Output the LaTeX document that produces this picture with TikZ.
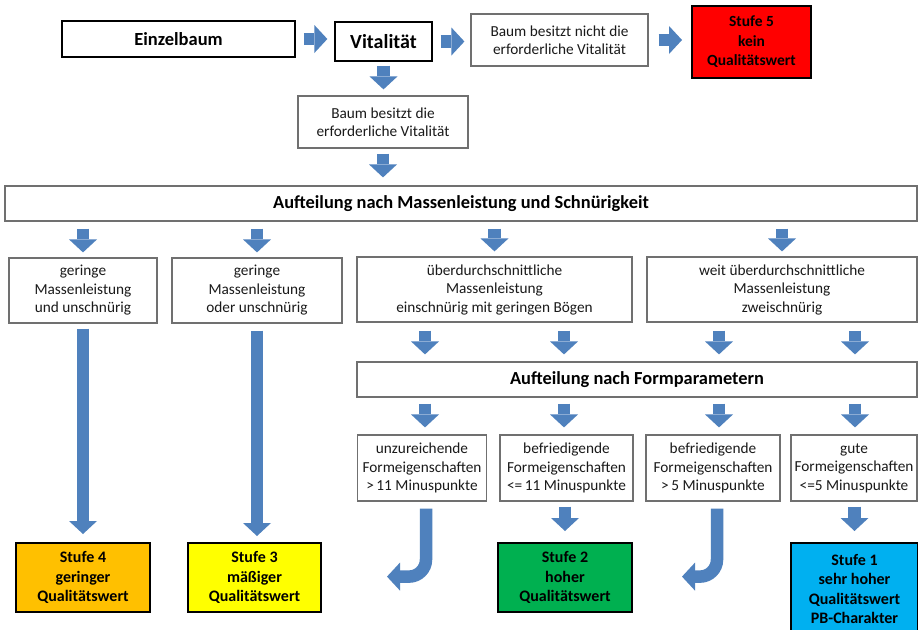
\documentclass[tikz,border=0pt]{standalone}
\usepackage{fontspec}
\setmainfont{Carlito}
\usetikzlibrary{arrows.meta,calc}
\definecolor{arrowblue}{HTML}{4F81BD}
\definecolor{boxgray}{HTML}{707070}
\definecolor{txtgray}{HTML}{1A1A1A}
\definecolor{s5red}{HTML}{FF0000}
\definecolor{s4orange}{HTML}{FFC000}
\definecolor{s3yellow}{HTML}{FFFF00}
\definecolor{s2green}{HTML}{00B050}
\definecolor{s1blue}{HTML}{00B0F0}
\begin{document}
\begin{tikzpicture}[x=1pt,y=-1pt,
  box/.style={draw=boxgray, line width=1.2pt, fill=white, align=center, inner sep=0pt,
    text=txtgray, font=\fontsize{15.3}{18.5}\selectfont},
  headbox/.style={box, text=black, font=\fontsize{18.4}{22}\selectfont\bfseries},
  stufe/.style={draw=black, line width=2pt, align=center, inner sep=0pt,
    text=black, font=\fontsize{16}{19.5}\selectfont\bfseries},
  barrow/.style={draw=arrowblue, line width=12.5pt,
    -{Triangle[length=13pt,width=28pt,line width=0pt]}},
]
\useasboundingbox (0,0) rectangle (918,629);
\fill[white] (0,0) rectangle (918,629);

% lanes
\coordinate (lane1) at (425,0);
\coordinate (lane2) at (564,0);
\coordinate (lane3) at (719,0);
\coordinate (lane4) at (855,0);

% top row
\node[box, draw=black, line width=1.8pt, text=black, minimum width=233pt, minimum height=36pt,
  font=\fontsize{18.5}{22}\selectfont\bfseries] (einzel) at (178.5,39) {Einzelbaum};
\node[box, draw=black, line width=1.3pt, text=black, minimum width=97pt, minimum height=39pt,
  font=\fontsize{20}{24}\selectfont\bfseries] (vital) at (383.5,41.5) {Vitalität};
\node[box, minimum width=177pt, minimum height=52pt] (nicht) at (559.5,40)
  {Baum besitzt nicht die\\erforderliche Vitalität};
\node[stufe, fill=s5red, minimum width=119pt, minimum height=72pt,
  font=\fontsize{15.5}{19.5}\selectfont\bfseries] (s5) at (751.5,42)
  {Stufe 5\\kein\\Qualitätswert};
\node[box, minimum width=170pt, minimum height=52pt] (hat) at (383,122)
  {Baum besitzt die\\erforderliche Vitalität};

% first split
\node[headbox, minimum width=912pt, minimum height=35pt] (auf1) at (461,203.5)
  {Aufteilung nach Massenleistung und Schnürigkeit};
\node[box, minimum width=148pt, minimum height=65pt] (A) at (83,290.5)
  {geringe\\Massenleistung\\und unschnürig};
\node[box, minimum width=170pt, minimum height=65pt] (B) at (257,290.5)
  {geringe\\Massenleistung\\oder unschnürig};
\node[box, minimum width=275pt, minimum height=65pt] (C) at (494.5,289.5)
  {überdurchschnittliche\\Massenleistung\\einschnürig mit geringen Bögen};
\node[box, minimum width=270pt, minimum height=65pt] (D) at (782,289.5)
  {weit überdurchschnittliche\\Massenleistung\\zweischnürig};

% second split
\node[headbox, minimum width=560pt, minimum height=35pt] (auf2) at (637,379.5)
  {Aufteilung nach Formparametern};
\node[box, minimum width=129pt, minimum height=66pt] (E) at (422,468)
  {unzureichende\\Formeigenschaften\\>\,11 Minuspunkte};
\node[box, minimum width=133pt, minimum height=66pt] (F) at (566.5,468)
  {befriedigende\\Formeigenschaften\\<=\,11 Minuspunkte};
\node[box, minimum width=134pt, minimum height=66pt] (G) at (713,468)
  {befriedigende\\Formeigenschaften\\>\,5 Minuspunkte};
\node[box, minimum width=126pt, minimum height=66pt] (H) at (854,468)
  {gute\\Formeigenschaften\\<=5 Minuspunkte};

% results
\node[stufe, fill=s4orange, minimum width=134pt, minimum height=69pt] (s4) at (83,577.5)
  {Stufe 4\\geringer\\Qualitätswert};
\node[stufe, fill=s3yellow, minimum width=133pt, minimum height=69pt] (s3) at (254.5,577.5)
  {Stufe 3\\mäßiger\\Qualitätswert};
\node[stufe, fill=s2green, minimum width=134pt, minimum height=69pt] (s2) at (565,577.5)
  {Stufe 2\\hoher\\Qualitätswert};
\node[stufe, fill=s1blue, minimum width=127pt, minimum height=92pt] (s1) at (854.5,589)
  {Stufe 1\\sehr hoher\\Qualitätswert\\PB-Charakter};

% arrows top
\draw[barrow] ([xshift=8pt]einzel.east) -- ([xshift=-7pt]einzel.east -| vital.west);
\draw[barrow] ([xshift=8pt]vital.east) -- ([xshift=-6pt]vital.east -| nicht.west);
\draw[barrow] ([xshift=10pt]nicht.east) -- ([xshift=-9pt]nicht.east -| s5.west);
\draw[barrow] ([yshift=-4pt]vital.south) -- ([yshift=6pt]vital.south |- hat.north);
\draw[barrow] ([yshift=-5pt]hat.south) -- ([yshift=8pt]hat.south |- auf1.north);

% arrows first split
\foreach \n in {A,B,C,D}
  \draw[barrow] ([yshift=-7pt]\n.north |- auf1.south) -- ([yshift=5pt]\n.north);
\draw[barrow] ([yshift=-5pt]A.south) -- ([yshift=8pt]A.south |- s4.north);
\draw[barrow] ([yshift=-7pt]B.south) -- ([yshift=6pt]B.south |- s3.north);

% arrows into second split
\draw[barrow] ([yshift=-8pt]lane1 |- C.south) -- ([yshift=7pt]lane1 |- auf2.north);
\draw[barrow] ([yshift=-8pt]lane2 |- C.south) -- ([yshift=7pt]lane2 |- auf2.north);
\draw[barrow] ([yshift=-8pt]lane3 |- D.south) -- ([yshift=7pt]lane3 |- auf2.north);
\draw[barrow] ([yshift=-8pt]lane4 |- D.south) -- ([yshift=7pt]lane4 |- auf2.north);

% arrows second split
\draw[barrow] ([yshift=-6pt]lane1 |- auf2.south) -- ([yshift=7pt]lane1 |- E.north);
\draw[barrow] ([yshift=-6pt]lane2 |- auf2.south) -- ([yshift=7pt]lane2 |- F.north);
\draw[barrow] ([yshift=-6pt]lane3 |- auf2.south) -- ([yshift=7pt]lane3 |- G.north);
\draw[barrow] ([yshift=-6pt]lane4 |- auf2.south) -- ([yshift=7pt]lane4 |- H.north);

% results arrows
\draw[barrow] ([yshift=-5pt]F.south -| s2.north) -- ([yshift=11pt]s2.north);
\draw[barrow] ([yshift=-5pt]H.south -| s1.north) -- ([yshift=11pt]s1.north);

% J-shaped arrows
\draw[barrow, rounded corners=17pt] ([xshift=4pt,yshift=-7pt]E.south) |- ++(-39,68);
\draw[barrow, rounded corners=17pt] ([xshift=4pt,yshift=-7pt]G.south) |- ++(-35,68);
\end{tikzpicture}
\end{document}
